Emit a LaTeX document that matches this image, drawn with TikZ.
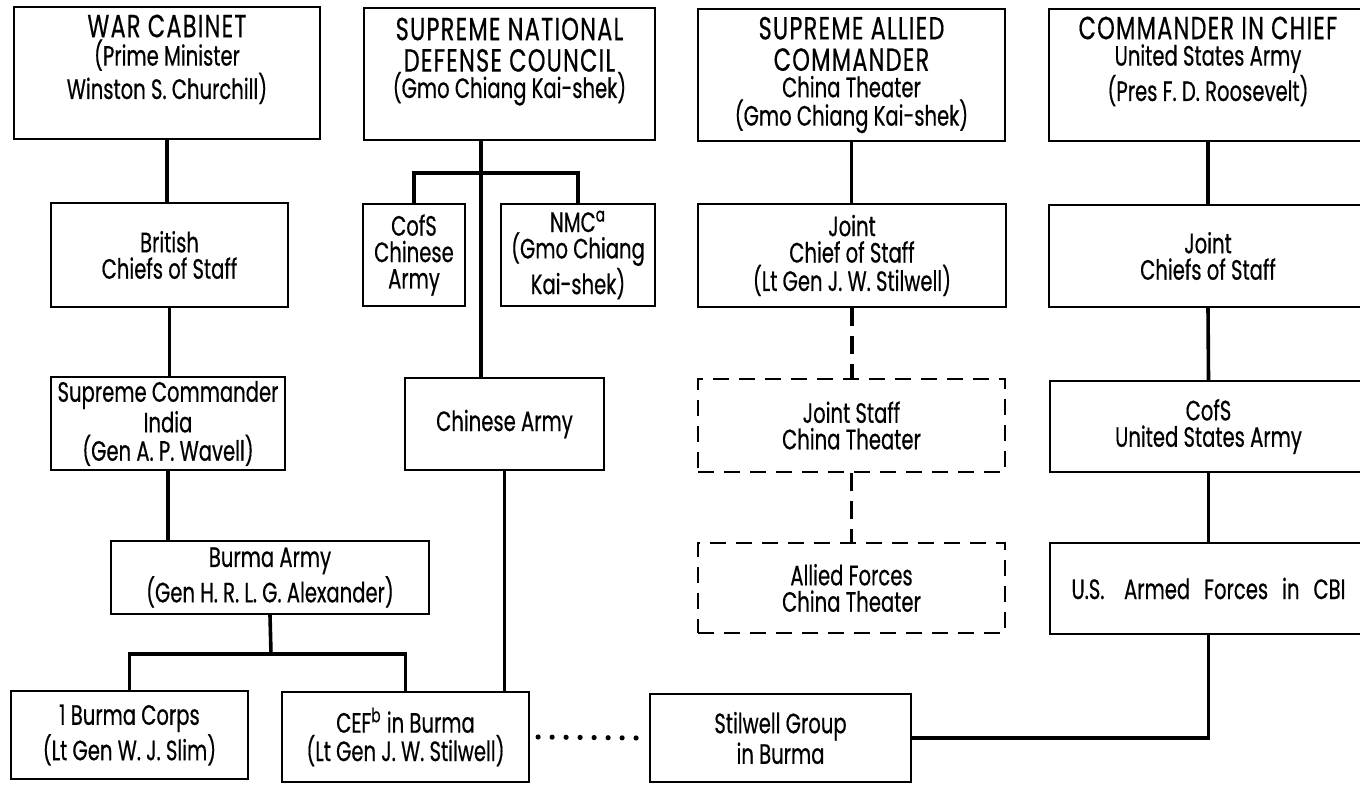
\documentclass[tikz,border=0pt]{standalone}
\usepackage{fontspec}
\setmainfont{Poppins}[FakeStretch=0.7, FakeBold=0.5]
\newcommand\titre[1]{{\fontsize{16}{14}\selectfont\addfontfeature{LetterSpace=4}#1}}
\begin{document}
\begin{tikzpicture}[
      x=0.5pt, y=-0.5pt,
      boite/.style={
        draw,
        line width=1.1pt,
        align=center,
        inner sep=0pt,
        font=\fontsize{14}{13.2}\selectfont
      },
      boitept/.style={
        boite,
        dash pattern=on 8pt off 5pt
      },
      lien/.style={line width=1.8pt},
      lienpt/.style={line width=1.8pt, dash pattern=on 9pt off 5pt},
      points/.style={line width=2.6pt, line cap=round, dash pattern=on 0pt off 7pt}
    ]
    \useasboundingbox (0,0) rectangle (1360,785);
    \node[boite, minimum width=153pt, minimum height=66pt] (wc) at (167,73) {\titre{WAR CABINET}\\[1pt](Prime Minister\\Winston S. Churchill)\\[3pt]} ;
    \node[boite, minimum width=145.5pt, minimum height=66pt] (sndc) at (509.5,74) {\titre{SUPREME NATIONAL}\\[2.5pt]\titre{DEFENSE COUNCIL}\\(Gmo Chiang Kai-shek)\\[3pt]} ;
    \node[boite, minimum width=153.5pt, minimum height=66pt] (sac) at (851.5,75) {\titre{SUPREME ALLIED}\\[2.5pt]\titre{COMMANDER}\\China Theater\\(Gmo Chiang Kai-shek)} ;
    \node[boite, minimum width=159pt, minimum height=66pt] (cic) at (1208,75) {\titre{COMMANDER IN CHIEF}\\United States Army\\(Pres F. D. Roosevelt)\\[3pt]} ;
    \node[boite, minimum width=118.5pt, minimum height=52pt] (bcos) at (169.5,255) {British\\Chiefs of Staff} ;
    \node[boite, minimum width=51pt, minimum height=51pt] (csca) at (414,255) {CofS\\Chinese\\Army} ;
    \node[boite, minimum width=77pt, minimum height=51pt] (nmc) at (578,255) {NMC\textsuperscript{a}\\(Gmo Chiang\\Kai-shek)} ;
    \node[boite, minimum width=154pt, minimum height=51.5pt] (jcos) at (852,255.5) {Joint\\Chief of Staff\\(Lt Gen J. W. Stilwell)} ;
    \node[boite, minimum width=159pt, minimum height=51pt] (jchiefs) at (1208,256) {Joint\\Chiefs of Staff} ;
    \node[boite, minimum width=117pt, minimum height=46.5pt] (sci) at (168,423.5) {Supreme Commander\\India\\(Gen A. P. Wavell)} ;
    \node[boite, minimum width=99.5pt, minimum height=46pt] (ca) at (504.5,424) {Chinese Army} ;
    \node[boitept, minimum width=153.5pt, minimum height=46.5pt] (jsct) at (851.5,425.5) {Joint Staff\\China Theater} ;
    \node[boite, minimum width=158.5pt, minimum height=45.5pt] (cofsus) at (1208.5,426.5) {CofS\\United States Army} ;
    \node[boite, minimum width=159pt, minimum height=36.5pt] (ba) at (270,577.5) {Burma Army\\(Gen H. R. L. G. Alexander)} ;
    \node[boitept, minimum width=153.5pt, minimum height=45pt] (afct) at (851.5,588) {Allied Forces\\China Theater} ;
    \node[boite, minimum width=158.5pt, minimum height=45.5pt] (usaf) at (1208.5,588.5) {U.S.\hspace{0.7em}Armed\hspace{0.5em}Forces\hspace{0.5em}in\hspace{0.5em}CBI} ;
    \node[boite, minimum width=118.5pt, minimum height=44pt] (bc) at (129.5,735) {1 Burma Corps\\(Lt Gen W. J. Slim)} ;
    \node[boite, minimum width=123.5pt, minimum height=45pt] (cef) at (405.5,737) {CEF\textsuperscript{b} in Burma\\(Lt Gen J. W. Stilwell)} ;
    \node[boite, minimum width=130.5pt, minimum height=44pt] (sg) at (780.5,738) {Stilwell Group\\in Burma} ;
    \coordinate (sndcfork) at (481,173) ;
    \coordinate (bafork) at (271,654) ;
    \draw[lien] (wc.south) -- (wc.south |- bcos.north) ;
    \draw[lien] (bcos.south) -- (bcos.south |- sci.north) ;
    \draw[lien] (sci.south) -- (sci.south |- ba.north) ;
    \draw[lien] (ba.south) -- (bafork) ;
    \draw[lien] (bc.north) |- (bafork) -| (cef.north) ;
    \draw[lien] (sndc.south -| sndcfork) -- (ca.north -| sndcfork) ;
    \draw[lien] (csca.north) |- (sndcfork) -| (nmc.north) ;
    \draw[lien] (ca.south) -- (ca.south |- cef.north) ;
    \draw[lien] (sac.south) -- (sac.south |- jcos.north) ;
    \draw[lienpt] (jcos.south) -- (jcos.south |- jsct.north) ;
    \draw[lienpt] (jsct.south) -- (jsct.south |- afct.north) ;
    \draw[lien] (cic.south) -- (jchiefs.north) ;
    \draw[lien] (jchiefs.south) -- (cofsus.north) ;
    \draw[lien] (cofsus.south) -- (usaf.north) ;
    \draw[lien] (usaf.south) |- (sg.east) ;
    \draw[points] ([xshift=4pt]cef.east) -- ([xshift=-6pt]sg.west) ;
  \end{tikzpicture}
\end{document}
